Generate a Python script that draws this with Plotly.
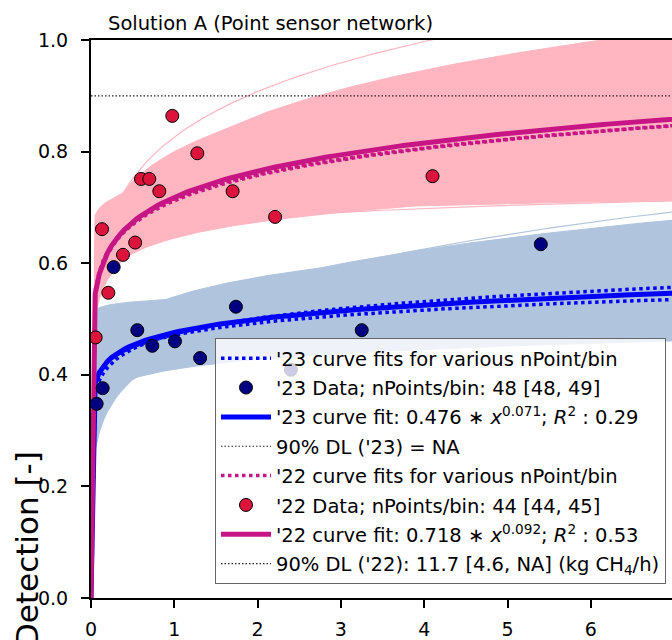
import numpy as np
import plotly.graph_objects as go

# ---- measured detection fractions per bin (kg CH4/h vs. detection) ----
x22 = [0.056, 0.132, 0.208, 0.384, 0.53, 0.60, 0.70, 0.82, 0.976, 1.276, 1.70, 2.21, 4.10]
y22 = [0.467, 0.661, 0.547, 0.615, 0.637, 0.751, 0.751, 0.729, 0.864, 0.797, 0.729, 0.683, 0.756]

x23 = [0.068, 0.14, 0.272, 0.556, 0.736, 1.008, 1.31, 1.74, 2.40, 3.25, 5.40]
y23 = [0.348, 0.376, 0.593, 0.480, 0.452, 0.460, 0.430, 0.522, 0.409, 0.480, 0.634]

# ---- power-law fits  y = a * x**b ----
fit22 = (0.718, 0.092)
fit23 = (0.476, 0.071)

# fits for alternative nPoints/bin
alt22_a = [0.712, 0.715]
alt22_b = [0.089, 0.087]
alt23_a = [0.473, 0.471]
alt23_b = [0.084, 0.066]

# bootstrap fits spanning the uncertainty bands
boot22_a = [0.74, 0.80, 0.79, 0.645, 0.68, 0.66, 0.72, 0.76]
boot22_b = [0.025, 0.10, 0.13, 0.063, 0.024, 0.09, 0.07, 0.09]
boot22_extra_a = [0.826, 0.75, 0.665]
boot22_extra_b = [0.136, 0.035, 0.035]

boot23_a = [0.535, 0.54, 0.51, 0.41, 0.43, 0.44, 0.47]
boot23_b = [0.012, 0.09, 0.146, 0.06, 0.13, 0.17, 0.10]
boot23_extra_a = [0.486, 0.53]
boot23_extra_b = [0.182, 0.02]

DL_LEVEL = 0.9          # 90 % detection level
DL22 = 11.7             # kg CH4/h

xs = np.arange(0, 8.0 + 1e-9, 0.05)


def power_curve(a, b):
    return a * np.power(xs, b)


FONT = "DejaVu Sans"
PINK = "#FFB6C1"
STEEL = "#B0C4DE"
MVR = "#C71585"
DOTTED_THIN = dict(color="#222", width=1.2, dash="1.5px,2px")

fig = go.Figure()


def add_band(a_list, b_list, extra_a, extra_b, color):
    curves = np.array([power_curve(a, b) for a, b in zip(a_list, b_list)])
    lo, hi = curves.min(axis=0), curves.max(axis=0)
    fig.add_trace(go.Scatter(x=xs, y=lo, mode="lines", line=dict(color=color, width=1),
                             showlegend=False, hoverinfo="skip"))
    fig.add_trace(go.Scatter(x=xs, y=hi, mode="lines", line=dict(color=color, width=1),
                             fill="tonexty", fillcolor=color, showlegend=False, hoverinfo="skip"))
    for a, b in zip(extra_a, extra_b):
        fig.add_trace(go.Scatter(x=xs, y=power_curve(a, b), mode="lines",
                                 line=dict(color=color, width=1.2),
                                 showlegend=False, hoverinfo="skip"))


add_band(boot22_a, boot22_b, boot22_extra_a, boot22_extra_b, PINK)
add_band(boot23_a, boot23_b, boot23_extra_a, boot23_extra_b, STEEL)

# horizontal 90% detection line
fig.add_trace(go.Scatter(x=[xs[0], xs[-1]], y=[DL_LEVEL, DL_LEVEL], mode="lines",
                         line=DOTTED_THIN, showlegend=False, hoverinfo="skip"))

# dotted alternative fits
for i, (a, b) in enumerate(zip(alt23_a, alt23_b)):
    fig.add_trace(go.Scatter(x=xs, y=power_curve(a, b), mode="lines",
                             line=dict(color="blue", width=3.5, dash="dot"),
                             name="'23 curve fits for various nPoint/bin",
                             legendgroup="g1", legendrank=1, showlegend=(i == 0)))
for i, (a, b) in enumerate(zip(alt22_a, alt22_b)):
    fig.add_trace(go.Scatter(x=xs, y=power_curve(a, b), mode="lines",
                             line=dict(color=MVR, width=3.5, dash="dot"),
                             name="'22 curve fits for various nPoint/bin",
                             legendgroup="g5", legendrank=5, showlegend=(i == 0)))

# main fits
fig.add_trace(go.Scatter(x=xs, y=power_curve(*fit23), mode="lines",
                         line=dict(color="blue", width=5),
                         name=f"'23 curve fit: {fit23[0]:.3f} ∗ <i>x</i><sup>{fit23[1]:.3f}</sup>; <i>R</i><sup>2</sup> : 0.29",
                         legendgroup="g3", legendrank=3))
fig.add_trace(go.Scatter(x=xs, y=power_curve(*fit22), mode="lines",
                         line=dict(color=MVR, width=5),
                         name=f"'22 curve fit: {fit22[0]:.3f} ∗ <i>x</i><sup>{fit22[1]:.3f}</sup>; <i>R</i><sup>2</sup> : 0.53",
                         legendgroup="g7", legendrank=7))

# detection-limit entries
fig.add_trace(go.Scatter(x=[None], y=[None], mode="lines", line=DOTTED_THIN,
                         name="90% DL ('23) = NA", legendgroup="g4", legendrank=4))
fig.add_trace(go.Scatter(x=[DL22, DL22], y=[0, DL_LEVEL], mode="lines", line=DOTTED_THIN,
                         name="90% DL ('22): 11.7 [4.6, NA] (kg CH<sub>4</sub>/h)",
                         legendgroup="g8", legendrank=8))

# measured data
fig.add_trace(go.Scatter(x=x23, y=y23, mode="markers",
                         marker=dict(color="#000080", size=13, line=dict(color="black", width=1)),
                         name="'23 Data; nPoints/bin: 48 [48, 49]", legendgroup="g2", legendrank=2))
fig.add_trace(go.Scatter(x=x22, y=y22, mode="markers",
                         marker=dict(color="#DC143C", size=13, line=dict(color="black", width=1)),
                         name="'22 Data; nPoints/bin: 44 [44, 45]", legendgroup="g6", legendrank=6))

W, H = 672, 640
L, T, B, R = 91, 40, 42, 0
px_per_unit = 83.3
x_max = (W - L - R) / px_per_unit

fig.update_layout(
    width=W, height=H,
    margin=dict(l=L, r=R, t=T, b=B, pad=0),
    paper_bgcolor="white", plot_bgcolor="white",
    font=dict(family=FONT, size=19, color="black"),
    title=dict(text="Solution A (Point sensor network)", font=dict(family=FONT, size=19.5),
               x=108 / W, xanchor="left", xref="container",
               y=1 - 23 / H, yanchor="middle", yref="container"),
    showlegend=True,
    legend=dict(x=(215 - L) / (W - L - R), xanchor="left",
                y=(H - B - 338) / (H - T - B), yanchor="top",
                bgcolor="rgba(255,255,255,0.8)", bordercolor="#666", borderwidth=1,
                font=dict(family=FONT, size=19.5), traceorder="grouped",
                tracegroupgap=1, itemwidth=50),
    annotations=[dict(text="Detection [-]", textangle=-90, showarrow=False,
                      xref="paper", x=(27 - L) / (W - L - R), xanchor="center",
                      yref="paper", y=(H - B - 549) / (H - T - B), yanchor="middle",
                      font=dict(family=FONT, size=31))],
)

fig.update_xaxes(range=[0, x_max], tickvals=list(range(0, 8)), ticks="outside", ticklen=8,
                 tickwidth=1.5, tickcolor="black", showline=True, linecolor="black", linewidth=2,
                 mirror=True, showgrid=False, zeroline=False, ticklabelstandoff=5,
                 tickfont=dict(family=FONT, size=19))
fig.update_yaxes(range=[0, 1], tickvals=[0, 0.2, 0.4, 0.6, 0.8, 1.0], tickformat=".1f",
                 ticks="outside", ticklen=8, tickwidth=1.5, tickcolor="black", showline=True,
                 linecolor="black", linewidth=2, showgrid=False, zeroline=False,
                 ticklabelstandoff=9, tickfont=dict(family=FONT, size=19))

fig.write_html("out.html")
